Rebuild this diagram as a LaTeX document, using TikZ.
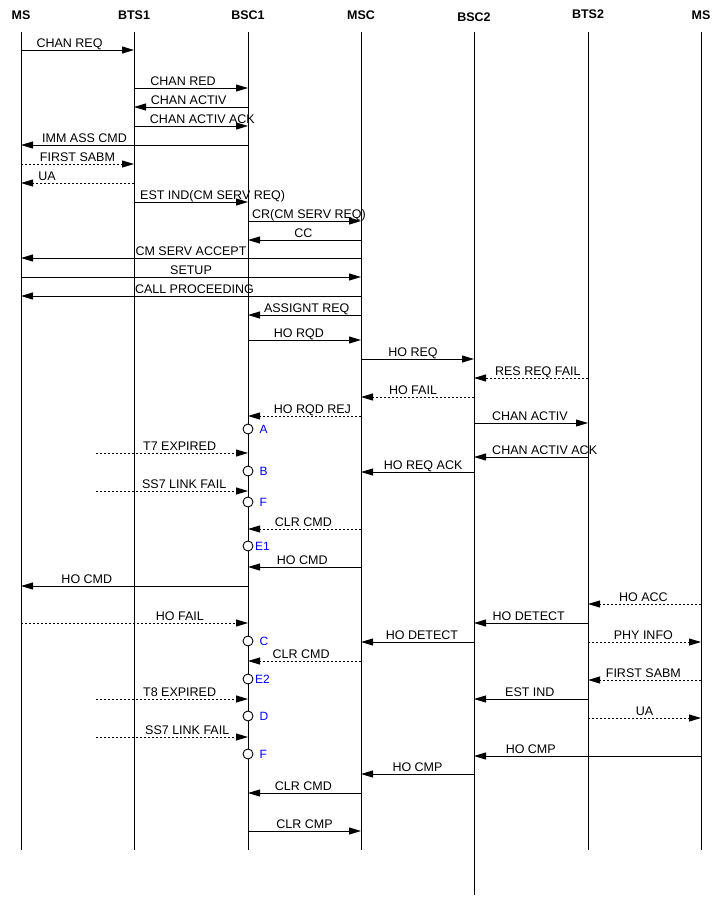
\documentclass[tikz,border=0pt]{standalone}
\usepackage{fontspec}
\setmainfont{Liberation Sans}
\usetikzlibrary{arrows.meta}

\begin{document}
\begin{tikzpicture}[x=1pt,y=-1pt,>={Triangle[length=12pt,width=7pt]},
   every node/.style={font=\fontsize{12.5}{14}\selectfont},
   head/.style={font=\fontsize{12.5}{14}\selectfont\bfseries},
   life/.style={line width=1pt},
   msg/.style={->,line width=1pt},
   lost/.style={msg,dash pattern=on 2pt off 2pt},
   lbl/.style={anchor=base,yshift=2.5pt,inner sep=0pt},
   cond/.style n args={2}{circle,draw,fill=white,minimum size=10pt,inner sep=0pt,
      line width=0.9pt,label={[text=blue,inner sep=0pt,label distance=#2,
      font=\fontsize{12}{14}\selectfont]right:#1}}]
  \useasboundingbox (0,0) rectangle (725,898);
  % lifelines
  \foreach \n/\x/\t/\y in {ms1/21/MS/15, bts1/134/BTS1/15, bsc1/248/BSC1/15,
      msc/361/MSC/15, bsc2/474/BSC2/17, bts2/588/BTS2/14, ms2/701/MS/15} {
    \node[head] (h\n) at (\x,\y) {\t};
    \coordinate (\n) at (\x,32);
  }
  \coordinate (tmr) at (96,32);
  \foreach \n in {ms1,bts1,bsc1,msc,bts2,ms2}
    \draw[life] (\n) -- (\n |- 0,850);
  \draw[life] (bsc2) -- (bsc2 |- 0,895);
  % call setup
  \draw[msg] (ms1 |- 0,50) -- node[lbl,pos=.43]{CHAN REQ} (bts1 |- 0,50);
  \draw[msg] (bts1 |- 0,88) -- node[lbl,pos=.43]{CHAN RED} (bsc1 |- 0,88);
  \draw[msg] (bsc1 |- 0,107) -- node[lbl,pos=.52]{CHAN ACTIV} (bts1 |- 0,107);
  \draw[msg] (bts1 |- 0,126) -- node[lbl,pos=.6]{CHAN ACTIV ACK} (bsc1 |- 0,126);
  \draw[msg] (bsc1 |- 0,145) -- node[lbl,pos=.72]{IMM ASS CMD} (ms1 |- 0,145);
  \draw[lost] (ms1 |- 0,164) -- node[lbl,pos=.5]{FIRST SABM} (bts1 |- 0,164);
  \draw[lost] (bts1 |- 0,183) -- node[lbl,pos=.77]{UA} (ms1 |- 0,183);
  \draw[msg] (bts1 |- 0,202) -- node[lbl,pos=.69]{EST IND(CM SERV REQ)} (bsc1 |- 0,202);
  \draw[msg] (bsc1 |- 0,221) -- node[lbl,pos=.54]{CR(CM SERV REQ)} (msc |- 0,221);
  \draw[msg] (msc |- 0,240) -- node[lbl,pos=.51]{CC} (bsc1 |- 0,240);
  \draw[msg] (msc |- 0,258) -- node[lbl,pos=.5]{CM SERV ACCEPT} (ms1 |- 0,258);
  \draw[msg] (ms1 |- 0,277) -- node[lbl,pos=.5]{SETUP} (msc |- 0,277);
  \draw[msg] (msc |- 0,296) -- node[lbl,pos=.49]{CALL PROCEEDING} (ms1 |- 0,296);
  \draw[msg] (msc |- 0,315) -- node[lbl,pos=.48]{ASSIGNT REQ} (bsc1 |- 0,315);
  % handover
  \draw[msg] (bsc1 |- 0,340) -- node[lbl,pos=.45]{HO RQD} (msc |- 0,340);
  \draw[msg] (msc |- 0,359) -- node[lbl,pos=.46]{HO REQ} (bsc2 |- 0,359);
  \draw[lost] (bts2 |- 0,378) -- node[lbl,pos=.44]{RES REQ FAIL} (bsc2 |- 0,378);
  \draw[lost] (bsc2 |- 0,397) -- node[lbl,pos=.54]{HO FAIL} (msc |- 0,397);
  \draw[lost] (msc |- 0,416) -- node[lbl,pos=.43]{HO RQD REJ} (bsc1 |- 0,416);
  \draw[msg] (bsc2 |- 0,423) -- node[lbl,pos=.49]{CHAN ACTIV} (bts2 |- 0,423);
  \draw[lost] (tmr |- 0,453) -- node[lbl,pos=.55]{T7 EXPIRED} (bsc1 |- 0,453);
  \draw[msg] (bts2 |- 0,457) -- node[lbl,pos=.38]{CHAN ACTIV ACK} (bsc2 |- 0,457);
  \draw[msg] (bsc2 |- 0,472) -- node[lbl,pos=.45]{HO REQ ACK} (msc |- 0,472);
  \draw[lost] (tmr |- 0,491) -- node[lbl,pos=.58]{SS7 LINK FAIL} (bsc1 |- 0,491);
  \draw[lost] (msc |- 0,529) -- node[lbl,pos=.51]{CLR CMD} (bsc1 |- 0,529);
  \draw[msg] (msc |- 0,567) -- node[lbl,pos=.52]{HO CMD} (bsc1 |- 0,567);
  \draw[msg] (bsc1 |- 0,586) -- node[lbl,pos=.71]{HO CMD} (ms1 |- 0,586);
  \draw[lost] (ms2 |- 0,604) -- node[lbl,pos=.51]{HO ACC} (bts2 |- 0,604);
  \draw[lost] (ms1 |- 0,623) -- node[lbl,pos=.7]{HO FAIL} (bsc1 |- 0,623);
  \draw[msg] (bts2 |- 0,623) -- node[lbl,pos=.52]{HO DETECT} (bsc2 |- 0,623);
  \draw[msg] (bsc2 |- 0,642) -- node[lbl,pos=.46]{HO DETECT} (msc |- 0,642);
  \draw[lost] (bts2 |- 0,642) -- node[lbl,pos=.49]{PHY INFO} (ms2 |- 0,642);
  \draw[lost] (msc |- 0,661) -- node[lbl,pos=.53]{CLR CMD} (bsc1 |- 0,661);
  \draw[lost] (ms2 |- 0,680) -- node[lbl,pos=.51]{FIRST SABM} (bts2 |- 0,680);
  \draw[lost] (tmr |- 0,699) -- node[lbl,pos=.55]{T8 EXPIRED} (bsc1 |- 0,699);
  \draw[msg] (bts2 |- 0,699) -- node[lbl,pos=.51]{EST IND} (bsc2 |- 0,699);
  \draw[lost] (bts2 |- 0,718) -- node[lbl,pos=.5]{UA} (ms2 |- 0,718);
  \draw[lost] (tmr |- 0,737) -- node[lbl,pos=.6]{SS7 LINK FAIL} (bsc1 |- 0,737);
  \draw[msg] (ms2 |- 0,756) -- node[lbl,pos=.75]{HO CMP} (bsc2 |- 0,756);
  \draw[msg] (bsc2 |- 0,774) -- node[lbl,pos=.5]{HO CMP} (msc |- 0,774);
  \draw[msg] (msc |- 0,793) -- node[lbl,pos=.51]{CLR CMD} (bsc1 |- 0,793);
  \draw[msg] (bsc1 |- 0,831) -- node[lbl,pos=.5]{CLR CMP} (msc |- 0,831);
  % states on BSC1
  \node[cond={A}{6pt}] (sA) at (bsc1 |- 0,429) {};
  \node[cond={B}{6pt}] (sB) at (bsc1 |- 0,471) {};
  \node[cond={F}{6pt}] (sF1) at (bsc1 |- 0,502) {};
  \node[cond={E1}{1.5pt}] (sE1) at (bsc1 |- 0,546) {};
  \node[cond={C}{6pt}] (sC) at (bsc1 |- 0,641) {};
  \node[cond={E2}{1.5pt}] (sE2) at (bsc1 |- 0,679) {};
  \node[cond={D}{6pt}] (sD) at (bsc1 |- 0,716) {};
  \node[cond={F}{6pt}] (sF2) at (bsc1 |- 0,754) {};
\end{tikzpicture}
\end{document}
